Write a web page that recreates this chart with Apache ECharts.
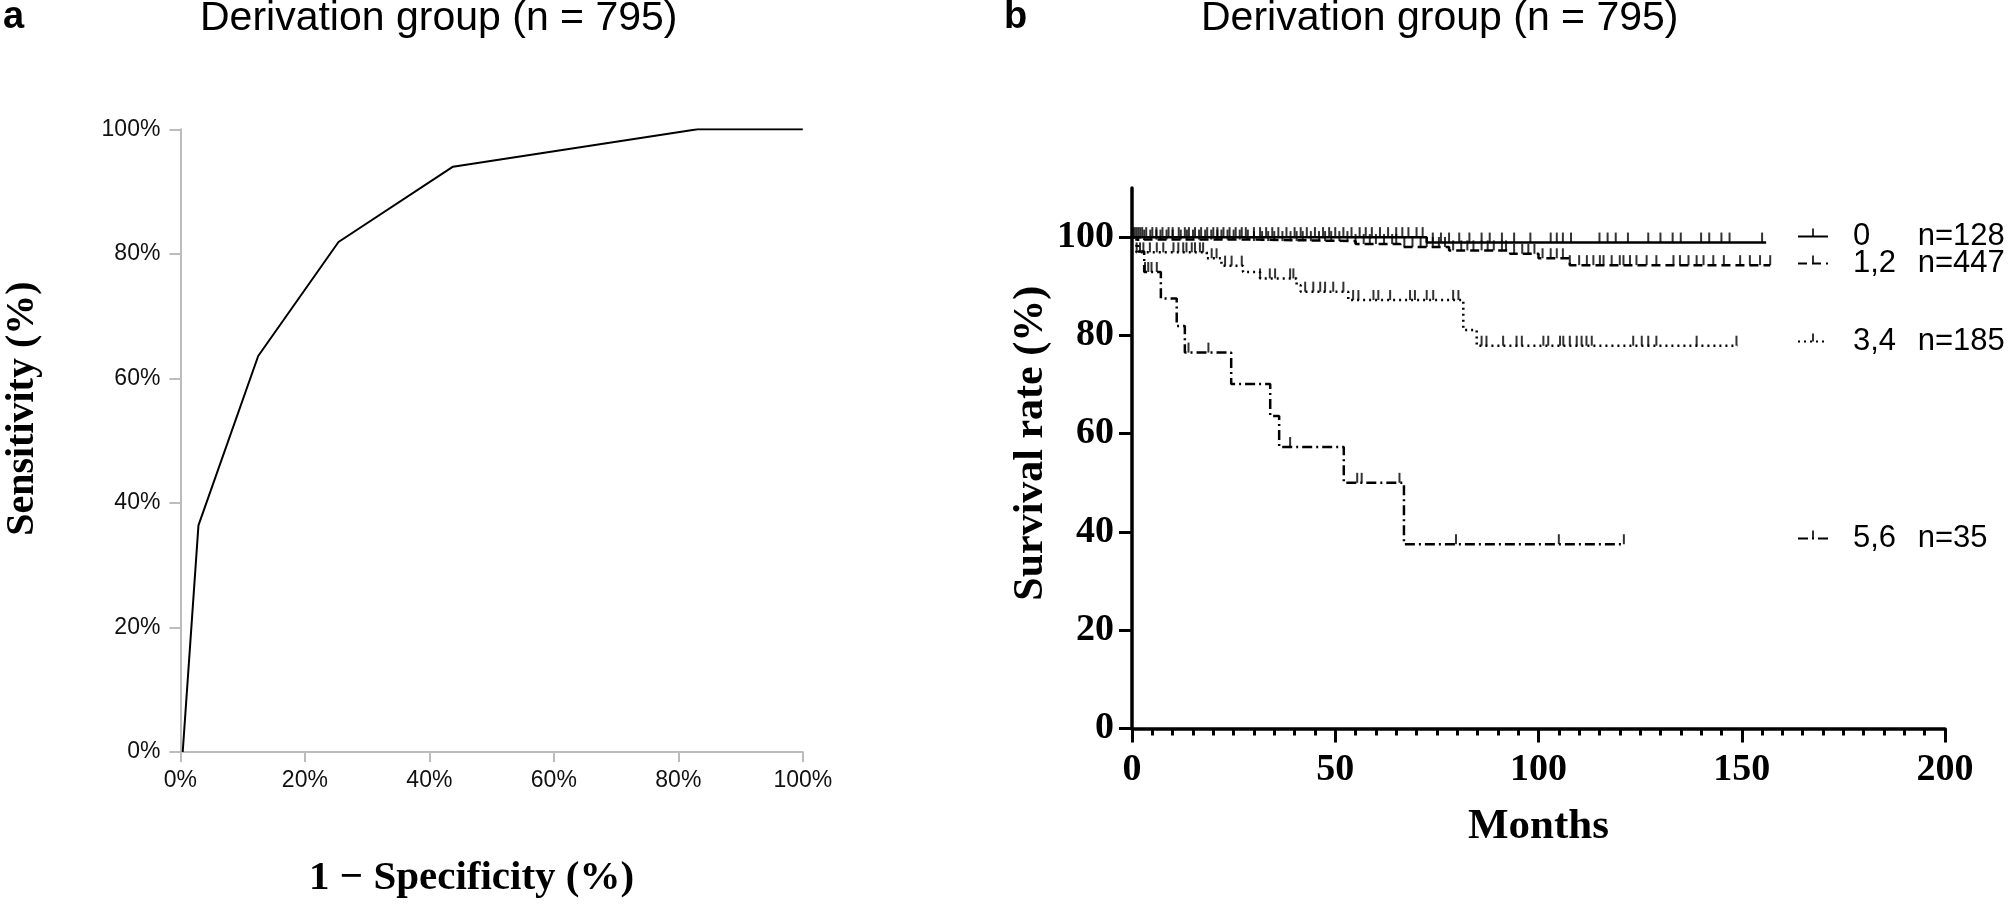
<!DOCTYPE html>
<html>
<head>
<meta charset="utf-8">
<script src="https://cdn.jsdelivr.net/npm/echarts@6/dist/echarts.min.js"></script>
<style>
html,body{margin:0;padding:0;background:#fff;}
#chart{width:2008px;height:904px;}
</style>
</head>
<body>
<div id="chart"></div>
<script>
// ---------- Panel a: ROC ----------
const rocFpr = [0.37, 2.9, 12.5, 25.4, 43.8, 83.1, 100];
const rocTpr = [0, 36.4, 63.6, 81.9, 94.0, 100, 100];
const rocTicks = [0, 20, 40, 60, 80, 100];

// ---------- Panel b: Kaplan-Meier ----------
const kmGroups = ['0', '1,2', '3,4', '5,6'];
const kmCounts = ['n=128', 'n=447', 'n=185', 'n=35'];
const survTicks = [0, 20, 40, 60, 80, 100];
const monthTicks = [0, 50, 100, 150, 200];

const g0Time = [0, 72.5, 156];
const g0Surv = [100, 98.9, 98.9];
const g12Time = [0, 3, 30, 55, 66, 78, 93, 100, 107.7, 157];
const g12Surv = [100, 99.5, 99.2, 98.6, 98.0, 97.3, 96.6, 95.7, 94.3, 94.3];
const g34Time = [0, 1.1, 18.4, 22, 27.3, 31.5, 40.5, 41.5, 53.2, 81.5, 84.8, 149];
const g34Surv = [100, 96.9, 95.7, 94.2, 92.9, 91.6, 90.2, 88.9, 87.2, 81.1, 77.9, 77.9];
const g56Time = [0, 1.5, 3, 7.1, 11, 13, 24.4, 34, 36.2, 52.1, 66.9, 121];
const g56Surv = [100, 97.1, 92.9, 87.5, 81.9, 76.5, 70.1, 63.6, 57.3, 50.0, 37.5, 37.5];

// censored observations (months)
const g0Censor = [0.5, 1.5, 2.5, 3.5, 5, 6, 7.5, 9, 10, 11.5, 13, 14, 15.5, 17, 18.5, 20, 21, 22.5, 24, 25.5, 27, 28, 30, 31.5, 33, 34.5, 36, 38, 40, 41.5, 43, 45, 47, 48.5, 50, 52, 54, 56, 57.5, 59, 61, 63, 65, 66.5, 68, 70, 71.5, 74, 76, 78, 80.5, 83, 86, 88, 91, 94, 98, 103, 104.5, 106, 108, 115, 117, 119, 122, 127, 130, 133, 135, 140, 142, 145, 147, 155];
const g12Censor = [1, 2, 3, 4.5, 6, 7, 8.5, 10, 12, 13.5, 15, 16.5, 18, 19.5, 21, 22, 23.5, 25, 26.5, 28.5, 30, 32, 33.5, 35, 37, 39, 40.5, 42, 44, 46, 47.5, 49, 51, 53, 55, 57, 58.5, 60, 62, 64, 65, 67, 69, 71, 72.5, 74, 75.5, 77, 79, 81, 82.5, 84, 86, 87.5, 89, 91, 92, 94, 96, 97.5, 99, 101, 103, 104.5, 106, 107.7, 110, 111.9, 113.5, 115.1, 116, 118, 120, 120.9, 122.5, 124.1, 126.6, 129, 133.2, 134.8, 136.9, 138.9, 140.6, 143, 145.6, 149.6, 152, 154.5, 157];
const g34Censor = [1.15, 1.97, 2.8, 4.4, 6.1, 7.7, 10.2, 11.4, 12.6, 13.4, 14.7, 15.5, 16.7, 17.5, 19.6, 20.8, 22.9, 24.5, 27.0, 31.5, 33.9, 35.2, 38.9, 39.7, 42.6, 44.6, 46.3, 47.5, 49.5, 52.0, 54.4, 55.7, 59.4, 60.6, 63.5, 68.4, 69.6, 72.5, 74.1, 79.0, 80.3, 86, 87.2, 91.3, 94.6, 95.9, 101.2, 102.4, 105.3, 106.1, 107.7, 109.4, 110.6, 111.8, 113.1, 123.3, 125.4, 127, 129, 138.9, 148.7];
const g56Censor = [3.2, 4.0, 4.8, 6.1, 13.9, 18.8, 38.9, 55.4, 56.5, 65.8, 79.7, 105, 121];

const sansFont = "'Liberation Sans', Arial, Helvetica, sans-serif";
const serifFont = "'Liberation Serif', 'Times New Roman', serif";

function pairs(xs, ys) { return xs.map((x, i) => [x, ys[i]]); }
function survAt(times, surv, t) {
  let v = surv[0];
  for (let i = 0; i < times.length; i++) { if (times[i] <= t) v = surv[i]; }
  return v;
}
function censorPts(times, surv, cens) { return cens.map(t => [t, survAt(times, surv, t)]); }

const tickPath = 'path://M0,0M20,20M9,0H11V10H9Z';
const lineTypes = ['solid', [9, 5], [2, 4], [10, 4, 2, 4]];
const kmTimes = [g0Time, g12Time, g34Time, g56Time];
const kmSurvs = [g0Surv, g12Surv, g34Surv, g56Surv];
const kmCens = [g0Censor, g12Censor, g34Censor, g56Censor];
const legendCenters = [239, 266, 344, 541];

const series = [{
  type: 'line', xAxisIndex: 0, yAxisIndex: 0,
  data: pairs(rocFpr, rocTpr),
  showSymbol: false, symbol: 'none',
  lineStyle: { color: '#000', width: 2 },
  silent: true, z: 3
}];
kmGroups.forEach((g, i) => {
  series.push({
    name: g, type: 'line', xAxisIndex: 1, yAxisIndex: 1,
    step: 'end',
    data: pairs(kmTimes[i], kmSurvs[i]),
    showSymbol: false, symbol: tickPath,
    itemStyle: { color: '#000' },
    lineStyle: { color: '#000', width: 2.5, type: lineTypes[i] },
    silent: true, z: 3
  });
  series.push({
    name: g + ' censored', type: 'scatter', xAxisIndex: 1, yAxisIndex: 1,
    data: censorPts(kmTimes[i], kmSurvs[i], kmCens[i]),
    symbol: 'rect', symbolSize: [2, 10], symbolOffset: [0, -5],
    itemStyle: { color: '#000' },
    silent: true, z: 4
  });
});

const legends = kmGroups.map((g, i) => ({
  data: [g],
  left: 1797,
  top: legendCenters[i] - 18,
  padding: 0,
  itemWidth: 30, itemHeight: 20,
  selectedMode: false,
  formatter: function (name) {
    const k = kmGroups.indexOf(name);
    return '{s| }{a|' + kmGroups[k] + '}{b|' + kmCounts[k] + '}';
  },
  textStyle: {
    color: '#000', fontFamily: sansFont, fontSize: 31,
    rich: {
      s: { width: 20, fontSize: 31, fontFamily: sansFont },
      a: { width: 64.7, fontSize: 31, fontFamily: sansFont, color: '#000' },
      b: { fontSize: 31, fontFamily: sansFont, color: '#000' }
    }
  }
}));

const chart = echarts.init(document.getElementById('chart'), null, { renderer: 'canvas' });
chart.setOption({
  animation: false,
  backgroundColor: '#fff',
  textStyle: { fontFamily: sansFont },
  title: [
    { text: 'a', left: 3, top: -1, padding: 0, textStyle: { fontFamily: sansFont, fontSize: 38, fontWeight: 'bold', color: '#000' } },
    { text: 'Derivation group (n = 795)', left: 200, top: -2, padding: 0, textStyle: { fontFamily: sansFont, fontSize: 41, fontWeight: 'normal', color: '#000' } },
    { text: 'b', left: 1004, top: -1, padding: 0, textStyle: { fontFamily: sansFont, fontSize: 38, fontWeight: 'bold', color: '#000' } },
    { text: 'Derivation group (n = 795)', left: 1201, top: -2, padding: 0, textStyle: { fontFamily: sansFont, fontSize: 41, fontWeight: 'normal', color: '#000' } }
  ],
  legend: legends,
  grid: [
    { left: 180.4, top: 129.3, width: 622.4, height: 625, containLabel: false },
    { left: 1132, top: 188, width: 813, height: 540.5, containLabel: false }
  ],
  xAxis: [{
    gridIndex: 0, type: 'value', min: 0, max: 100, interval: 20,
    name: '1 \u2212 Specificity (%)', nameLocation: 'middle', nameGap: 106,
    nameTextStyle: { fontFamily: serifFont, fontWeight: 'bold', fontSize: 41, color: '#000', padding: [0, 40, 0, 0] },
    axisLine: { show: true, lineStyle: { color: '#bcbcbc', width: 2 } },
    axisTick: { show: true, length: 10, lineStyle: { color: '#bcbcbc', width: 2 }, customValues: rocTicks },
    axisLabel: { formatter: '{value}%', fontFamily: sansFont, fontSize: 23, color: '#111', margin: 17, customValues: rocTicks },
    splitLine: { show: false }
  }, {
    gridIndex: 1, type: 'value', min: 0, max: 200, interval: 50,
    name: 'Months', nameLocation: 'middle', nameGap: 77,
    nameTextStyle: { fontFamily: serifFont, fontWeight: 'bold', fontSize: 43, color: '#000' },
    axisLine: { show: true, onZero: false, lineStyle: { color: '#000', width: 3.5 } },
    axisTick: { show: true, length: 14, lineStyle: { color: '#000', width: 3 }, customValues: monthTicks },
    minorTick: { show: true, splitNumber: 10, length: 7, lineStyle: { color: '#000', width: 3 } },
    axisLabel: { fontFamily: serifFont, fontWeight: 'bold', fontSize: 38, color: '#000', margin: 23, customValues: monthTicks },
    splitLine: { show: false }, minorSplitLine: { show: false }
  }],
  yAxis: [{
    gridIndex: 0, type: 'value', min: 0, max: 100, interval: 20,
    name: 'Sensitivity (%)', nameLocation: 'middle', nameGap: 138,
    nameTextStyle: { fontFamily: serifFont, fontWeight: 'bold', fontSize: 40, color: '#000', padding: [0, 0, 0, 64] },
    axisLine: { show: true, lineStyle: { color: '#bcbcbc', width: 2 } },
    axisTick: { show: true, length: 11, lineStyle: { color: '#bcbcbc', width: 2 }, customValues: rocTicks },
    axisLabel: { formatter: '{value}%', fontFamily: sansFont, fontSize: 23, color: '#111', margin: 20, customValues: rocTicks },
    splitLine: { show: false }
  }, {
    gridIndex: 1, type: 'value', min: 0, max: 110, interval: 20,
    name: 'Survival rate (%)', nameLocation: 'middle', nameGap: 80,
    nameTextStyle: { fontFamily: serifFont, fontWeight: 'bold', fontSize: 42, color: '#000', padding: [0, 0, 0, 30] },
    axisLine: { show: true, onZero: false, lineStyle: { color: '#000', width: 3.5 } },
    axisTick: { show: true, length: 13, lineStyle: { color: '#000', width: 3 }, customValues: survTicks },
    axisLabel: { fontFamily: serifFont, fontWeight: 'bold', fontSize: 38, color: '#000', margin: 18, customValues: survTicks },
    splitLine: { show: false }
  }],
  series: series
});
</script>
</body>
</html>
